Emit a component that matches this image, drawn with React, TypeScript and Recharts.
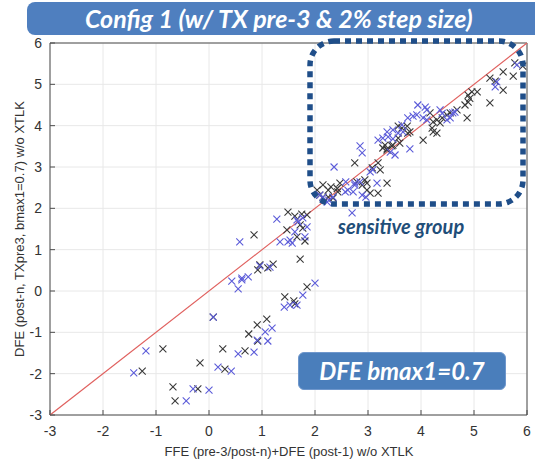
import React from 'react'
import { ScatterChart, Scatter, XAxis, YAxis, CartesianGrid, ReferenceLine, ReferenceArea } from 'recharts'

const axisTicks = [-3, -2, -1, 0, 1, 2, 3, 4, 5, 6]

const titleText = 'Config 1 (w/ TX pre-3 & 2% step size)'
const xTitle = 'FFE (pre-3/post-n)+DFE (post-1) w/o XTLK'
const yTitle = 'DFE (post-n, TXpre3, bmax1=0.7) w/o XTLK'
const groupLabel = 'sensitive group'
const boxLabel = 'DFE bmax1=0.7'

// [FFE+DFE, DFE-only] pairs per lane
const bluePoints: [number, number][] = [
  [-1.19, -1.45], [-1.42, -1.98], [-0.3, -2.37], [0.0, -2.4], [-0.43, -2.66],
  [0.08, -0.63], [0.43, 0.24], [0.55, 0.05], [0.58, 1.19], [0.55, -1.52],
  [0.17, -1.84], [0.42, -1.94], [0.62, 0.27], [2.0, 0.19], [1.77, -0.1],
  [1.42, -0.39], [1.53, -0.34], [1.66, -0.34], [1.19, -0.9], [1.06, -0.99],
  [0.91, -1.19], [1.11, -1.21], [0.85, -1.48], [1.28, 1.74], [1.68, 1.67],
  [1.85, 1.55], [1.34, 1.19], [1.53, 1.23], [1.57, 1.16], [0.96, 0.61],
  [1.15, 0.58], [0.74, 0.34], [0.62, 0.31], [2.85, 3.51], [2.89, 3.34],
  [2.36, 3.0], [3.09, 2.93], [3.04, 2.88], [3.42, 3.36], [3.51, 3.29],
  [2.75, 2.61], [2.85, 2.64], [3.17, 2.61], [2.57, 2.4], [2.62, 2.44],
  [2.89, 2.32], [2.23, 2.15], [2.26, 2.2], [2.7, 1.89], [1.66, 1.72],
  [1.77, 1.77], [1.81, 1.31], [1.62, 1.43], [5.81, 5.47], [5.43, 5.06],
  [5.4, 4.94], [4.64, 4.33], [4.55, 4.19], [4.49, 4.14], [4.36, 4.38],
  [4.4, 4.3], [3.94, 4.5], [4.08, 4.45], [4.11, 4.38], [3.92, 4.26],
  [3.85, 4.23], [3.75, 4.19], [4.04, 4.19], [4.11, 4.14], [3.79, 3.44],
  [3.66, 3.85], [3.57, 3.82], [3.47, 3.9], [3.36, 3.85], [3.28, 3.7],
  [3.47, 3.68], [3.19, 3.65], [3.38, 3.73], [3.64, 4.02], [4.6, 4.31],
  [2.58, 2.64], [2.75, 2.56], [2.72, 2.4], [2.15, 2.27], [2.34, 2.27],
  [1.49, 1.19], [2.96, 2.27], [2.09, 2.32],
]

const blackPoints: [number, number][] = [
  [-0.87, -1.4], [-1.26, -1.94], [-0.17, -1.74], [-0.68, -2.32], [-0.21, -2.37],
  [-0.64, -2.66], [0.08, -0.63], [0.26, -1.4], [0.3, -1.89], [1.85, 0.1],
  [1.43, -0.14], [1.6, -0.24], [1.62, -0.31], [1.09, -0.68], [0.91, -0.82],
  [0.75, -1.04], [0.92, -1.21], [0.68, -1.45], [1.49, 1.91], [1.62, 1.81],
  [1.75, 1.86], [1.85, 1.84], [1.47, 1.48], [1.66, 1.31], [1.81, 1.21],
  [0.85, 1.36], [1.72, 0.77], [0.92, 0.51], [0.96, 0.63], [1.21, 0.65],
  [1.11, 0.56], [2.75, 3.1], [3.08, 2.98], [3.19, 3.1], [3.36, 3.44],
  [3.45, 3.51], [2.47, 2.61], [2.94, 2.69], [2.98, 2.61], [3.36, 2.61],
  [2.15, 2.57], [2.3, 2.52], [2.25, 2.44], [2.43, 2.4], [3.04, 2.37],
  [3.19, 2.37], [2.98, 2.44], [2.09, 2.32], [2.15, 2.27], [2.25, 2.27],
  [2.34, 2.25], [1.72, 1.6], [1.77, 1.52], [5.77, 5.52], [5.92, 5.44],
  [5.55, 5.3], [5.74, 5.2], [5.3, 5.15], [5.4, 5.08], [5.55, 4.86],
  [4.96, 4.82], [5.06, 4.82], [4.89, 4.74], [4.92, 4.66], [4.89, 4.57],
  [4.83, 4.5], [5.3, 4.55], [4.87, 4.19], [4.68, 4.38], [4.55, 4.31],
  [4.49, 4.26], [4.17, 4.31], [4.3, 4.14], [4.23, 4.09], [4.36, 4.07],
  [4.21, 3.94], [4.23, 3.85], [4.3, 3.82], [4.04, 3.65], [3.74, 3.99],
  [3.64, 3.94], [3.57, 3.99], [3.75, 3.82], [3.79, 3.85], [3.57, 3.7],
  [3.6, 3.58], [3.47, 3.53], [3.36, 3.41], [3.28, 3.46], [3.32, 3.53],
  [3.23, 2.93], [2.79, 2.64], [2.89, 2.56], [2.42, 2.48], [2.04, 2.44],
  [4.4, 4.19],
]

const toRows = (pts: [number, number][]) => pts.map(([x, y]) => ({ x, y }))

// matlab-style 'x' marker
const xMark = (color: string) => (props: any) => {
  const { cx, cy } = props
  const r = 3.5
  return (
    <path
      d={`M${cx - r},${cy - r}L${cx + r},${cy + r}M${cx - r},${cy + r}L${cx + r},${cy - r}`}
      stroke={color}
      strokeWidth={1.1}
      fill="none"
    />
  )
}

const sansFont = '"Liberation Sans", Arial, sans-serif'
const tickStyle = { fontSize: 14, fill: '#333', fontFamily: sansFont }

export default function App() {
  return (
    <div style={{ position: 'absolute', left: 0, top: 0, width: 535, height: 464, background: '#fff' }}>
      <ScatterChart width={535} height={464} margin={{ top: 43, right: 8, bottom: 24, left: 20 }}>
        <CartesianGrid stroke="#e8e8e8" />
        <XAxis
          type="number"
          dataKey="x"
          domain={[-3, 6]}
          ticks={axisTicks}
          height={25}
          axisLine={false}
          tickSize={-5}
          tickMargin={16}
          tickLine={{ stroke: '#4d4d4d' }}
          tick={tickStyle}
        />
        <YAxis
          type="number"
          dataKey="y"
          domain={[-3, 6]}
          ticks={axisTicks}
          width={30}
          axisLine={false}
          tickSize={-5}
          tickMargin={13}
          tickLine={{ stroke: '#4d4d4d' }}
          tick={tickStyle}
        />
        <ReferenceArea x1={-3} x2={6} y1={-3} y2={6} fill="none" stroke="#4d4d4d" strokeWidth={1} />
        <ReferenceLine
          segment={[{ x: -3, y: -3 }, { x: 6, y: 6 }]}
          stroke="#e0615f"
          strokeWidth={1.2}
        />
        <Scatter data={toRows(blackPoints)} shape={xMark('#3a3a3a')} isAnimationActive={false} />
        <Scatter data={toRows(bluePoints)} shape={xMark('#5c5cd9')} isAnimationActive={false} />
      </ScatterChart>

      <svg width={535} height={464} style={{ position: 'absolute', left: 0, top: 0, pointerEvents: 'none' }}>
        <text x={289} y={456} textAnchor="middle" fontSize={13} fill="#333" fontFamily={sansFont}>
          {xTitle}
        </text>
        <text
          transform="translate(24,229) rotate(-90)"
          textAnchor="middle"
          fontSize={13}
          fill="#333"
          fontFamily={sansFont}
        >
          {yTitle}
        </text>
        <rect
          x={310}
          y={41}
          width={213}
          height={163}
          rx={24}
          fill="none"
          stroke="#1f4e89"
          strokeWidth={5.5}
          strokeDasharray="6 5"
        />
        <text
          x={401}
          y={234}
          textAnchor="middle"
          fontSize={20}
          fontWeight="bold"
          fontStyle="italic"
          fill="#1f4e79"
          fontFamily="Lato, sans-serif"
        >
          {groupLabel}
        </text>
      </svg>

      <div
        style={{
          position: 'absolute',
          left: 27,
          top: 2,
          width: 520,
          height: 33,
          background: '#4f7fbf',
          borderRadius: '8px 0 0 8px',
          color: '#fff',
          fontFamily: 'Lato, sans-serif',
          fontWeight: 'bold',
          fontStyle: 'italic',
          fontSize: 25,
          lineHeight: '33px',
          paddingLeft: 58,
          boxSizing: 'border-box',
          whiteSpace: 'nowrap',
        }}
      >
        {titleText}
      </div>

      <div
        style={{
          position: 'absolute',
          left: 298,
          top: 352,
          width: 208,
          height: 38,
          background: '#4a7ebb',
          border: '1px solid #6f97cc',
          borderRadius: 6,
          boxSizing: 'border-box',
          color: '#fff',
          fontFamily: 'Lato, sans-serif',
          fontWeight: 'bold',
          fontStyle: 'italic',
          fontSize: 24,
          lineHeight: '36px',
          textAlign: 'center',
        }}
      >
        {boxLabel}
      </div>
    </div>
  )
}
